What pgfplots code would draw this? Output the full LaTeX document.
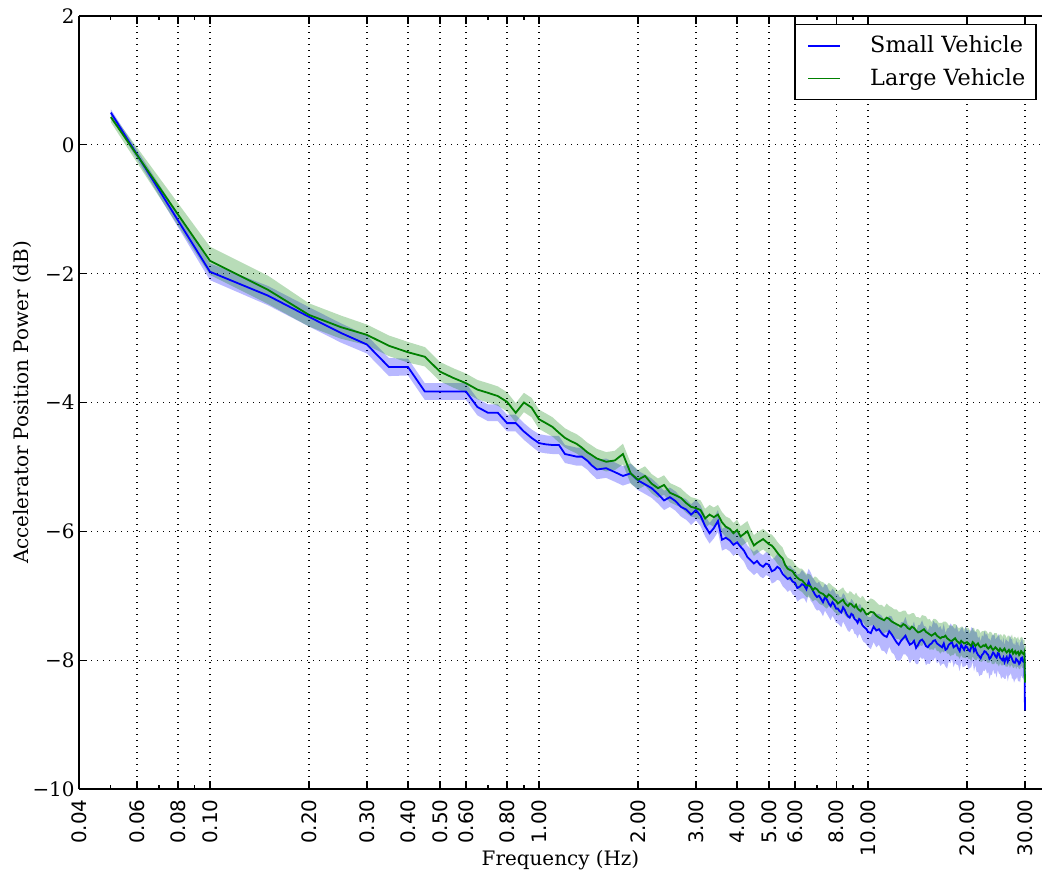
\documentclass[border=0pt]{standalone}
\usepackage{fontspec}
\setmainfont{DejaVu Serif}
\newfontfamily\sansdj{DejaVu Sans}
\usepackage{pgfplots}
\usepackage{pgfplotstable}
\pgfplotsset{compat=1.18}
\usepgfplotslibrary{fillbetween}

\definecolor{mplblue}{RGB}{0,0,255}
\definecolor{mplgreen}{RGB}{0,128,0}

\pgfplotstableread{
f b bw g gw
0.05 0.50 0.05 0.43 0.08
0.10 -1.97 0.13 -1.80 0.22
0.15 -2.34 0.15 -2.25 0.22
0.20 -2.67 0.15 -2.64 0.18
0.25 -2.92 0.15 -2.83 0.18
0.30 -3.10 0.14 -2.95 0.16
0.35 -3.45 0.14 -3.12 0.16
0.40 -3.45 0.13 -3.22 0.16
0.45 -3.83 0.13 -3.29 0.15
0.50 -3.83 0.13 -3.52 0.15
0.55 -3.83 0.13 -3.62 0.15
0.60 -3.83 0.13 -3.70 0.15
0.65 -4.07 0.13 -3.80 0.15
0.70 -4.16 0.13 -3.85 0.15
0.75 -4.16 0.13 -3.90 0.15
0.80 -4.32 0.13 -3.99 0.15
0.85 -4.32 0.13 -4.16 0.15
0.90 -4.45 0.13 -4.00 0.15
0.95 -4.55 0.13 -4.08 0.15
1.00 -4.63 0.14 -4.26 0.15
1.05 -4.65 0.14 -4.32 0.15
1.10 -4.66 0.14 -4.38 0.15
1.15 -4.66 0.14 -4.47 0.15
1.20 -4.80 0.14 -4.55 0.15
1.25 -4.82 0.14 -4.60 0.15
1.30 -4.84 0.14 -4.64 0.15
1.35 -4.84 0.14 -4.70 0.15
1.40 -4.90 0.14 -4.77 0.15
1.45 -4.98 0.14 -4.82 0.15
1.50 -5.04 0.15 -4.87 0.15
1.60 -5.02 0.15 -4.92 0.15
1.70 -5.08 0.15 -4.90 0.15
1.80 -5.14 0.15 -4.80 0.16
1.90 -5.10 0.15 -5.10 0.16
2.00 -5.21 0.15 -5.20 0.15
2.10 -5.27 0.15 -5.14 0.15
2.20 -5.33 0.15 -5.26 0.15
2.30 -5.42 0.15 -5.33 0.15
2.40 -5.52 0.15 -5.28 0.15
2.50 -5.47 0.15 -5.40 0.15
2.60 -5.53 0.15 -5.44 0.15
2.70 -5.62 0.15 -5.48 0.15
2.80 -5.66 0.16 -5.56 0.15
2.90 -5.74 0.16 -5.62 0.15
3.00 -5.67 0.16 -5.64 0.15
3.10 -5.76 0.16 -5.67 0.15
3.20 -5.92 0.16 -5.80 0.15
3.30 -6.03 0.16 -5.74 0.15
3.40 -5.95 0.16 -5.78 0.15
3.50 -5.84 0.17 -5.74 0.15
3.60 -6.13 0.17 -5.86 0.16
3.70 -6.10 0.17 -5.93 0.16
3.80 -6.14 0.17 -5.96 0.16
3.90 -6.21 0.17 -6.03 0.16
4.00 -6.17 0.17 -5.98 0.16
4.10 -6.24 0.17 -6.08 0.16
4.20 -6.30 0.17 -6.04 0.16
4.30 -6.40 0.18 -6.00 0.16
4.40 -6.45 0.18 -6.12 0.16
4.50 -6.50 0.18 -6.22 0.16
4.60 -6.46 0.18 -6.18 0.16
4.70 -6.52 0.18 -6.15 0.16
4.80 -6.55 0.18 -6.12 0.16
4.90 -6.50 0.18 -6.16 0.16
5.00 -6.52 0.18 -6.20 0.16
5.10 -6.62 0.19 -6.22 0.17
5.20 -6.60 0.19 -6.27 0.17
5.30 -6.55 0.20 -6.33 0.17
5.40 -6.58 0.19 -6.38 0.17
5.50 -6.66 0.19 -6.42 0.17
5.60 -6.70 0.19 -6.52 0.17
5.70 -6.74 0.20 -6.58 0.17
5.80 -6.72 0.19 -6.60 0.17
5.90 -6.78 0.20 -6.62 0.17
6.00 -6.80 0.20 -6.68 0.17
6.10 -6.88 0.21 -6.72 0.17
6.20 -6.86 0.20 -6.75 0.17
6.30 -6.82 0.22 -6.76 0.18
6.40 -6.84 0.20 -6.80 0.18
6.50 -6.90 0.21 -6.84 0.18
6.60 -6.78 0.20 -6.84 0.18
6.70 -6.86 0.22 -6.86 0.18
6.80 -6.92 0.20 -6.91 0.18
6.90 -6.98 0.21 -6.88 0.18
7.00 -7.02 0.21 -6.90 0.18
7.10 -7.00 0.22 -6.94 0.18
7.20 -7.05 0.21 -6.96 0.18
7.30 -7.10 0.22 -6.97 0.18
7.40 -7.02 0.21 -7.00 0.18
7.50 -7.06 0.22 -7.02 0.18
7.60 -7.12 0.21 -6.98 0.18
7.70 -7.16 0.22 -7.00 0.18
7.80 -7.10 0.21 -7.03 0.18
7.90 -7.14 0.22 -7.06 0.19
8.00 -7.20 0.22 -7.08 0.19
8.10 -7.20 0.23 -7.12 0.19
8.20 -7.24 0.22 -7.10 0.19
8.30 -7.26 0.23 -7.08 0.19
8.40 -7.18 0.22 -7.06 0.19
8.50 -7.22 0.23 -7.11 0.19
8.60 -7.28 0.22 -7.14 0.19
8.70 -7.32 0.23 -7.16 0.19
8.80 -7.34 0.22 -7.12 0.19
8.90 -7.28 0.23 -7.13 0.19
9.00 -7.30 0.22 -7.16 0.19
9.10 -7.36 0.23 -7.18 0.19
9.20 -7.38 0.22 -7.14 0.19
9.30 -7.42 0.24 -7.20 0.20
9.40 -7.36 0.23 -7.22 0.20
9.50 -7.38 0.24 -7.24 0.20
9.60 -7.45 0.23 -7.20 0.20
9.70 -7.48 0.24 -7.22 0.20
9.80 -7.50 0.23 -7.26 0.20
9.90 -7.52 0.24 -7.29 0.20
10.00 -7.56 0.23 -7.28 0.20
10.2 -7.58 0.25 -7.25 0.21
10.4 -7.48 0.24 -7.26 0.20
10.6 -7.54 0.26 -7.31 0.21
10.8 -7.52 0.24 -7.34 0.20
11.0 -7.58 0.27 -7.36 0.22
11.2 -7.62 0.24 -7.38 0.20
11.4 -7.64 0.27 -7.34 0.22
11.6 -7.55 0.24 -7.36 0.20
11.8 -7.60 0.28 -7.40 0.22
12.0 -7.66 0.25 -7.42 0.21
12.2 -7.72 0.28 -7.44 0.23
12.4 -7.76 0.25 -7.46 0.21
12.6 -7.70 0.29 -7.48 0.23
12.8 -7.66 0.25 -7.44 0.21
13.0 -7.62 0.29 -7.46 0.23
13.2 -7.70 0.25 -7.50 0.21
13.4 -7.76 0.29 -7.52 0.23
13.6 -7.74 0.25 -7.48 0.21
13.8 -7.70 0.30 -7.50 0.23
14.0 -7.81 0.25 -7.54 0.21
14.2 -7.76 0.30 -7.57 0.24
14.4 -7.70 0.25 -7.56 0.21
14.6 -7.68 0.30 -7.54 0.24
14.8 -7.72 0.25 -7.52 0.21
15.0 -7.78 0.30 -7.56 0.24
15.2 -7.80 0.25 -7.58 0.21
15.4 -7.76 0.30 -7.60 0.24
15.6 -7.74 0.25 -7.62 0.21
15.8 -7.70 0.31 -7.60 0.24
16.0 -7.69 0.26 -7.58 0.22
16.2 -7.74 0.31 -7.62 0.24
16.4 -7.76 0.26 -7.64 0.22
16.6 -7.78 0.31 -7.66 0.24
16.8 -7.80 0.26 -7.64 0.22
17.0 -7.74 0.31 -7.64 0.24
17.2 -7.84 0.26 -7.62 0.22
17.4 -7.82 0.31 -7.66 0.24
17.6 -7.76 0.26 -7.68 0.22
17.8 -7.74 0.31 -7.70 0.24
18.0 -7.72 0.26 -7.70 0.22
18.2 -7.80 0.31 -7.68 0.24
18.4 -7.78 0.26 -7.66 0.22
18.6 -7.76 0.31 -7.70 0.24
18.8 -7.82 0.26 -7.72 0.22
19.0 -7.86 0.31 -7.74 0.24
19.2 -7.76 0.26 -7.70 0.22
19.4 -7.80 0.31 -7.72 0.24
19.6 -7.84 0.26 -7.74 0.22
19.8 -7.78 0.31 -7.73 0.24
20.0 -7.80 0.26 -7.72 0.22
20.2 -7.84 0.31 -7.74 0.24
20.4 -7.86 0.26 -7.76 0.22
20.6 -7.80 0.31 -7.78 0.24
20.8 -7.76 0.26 -7.72 0.22
21.0 -7.86 0.31 -7.74 0.24
21.2 -7.82 0.26 -7.78 0.22
21.4 -7.88 0.31 -7.76 0.24
21.6 -7.92 0.26 -7.74 0.22
21.8 -7.94 0.31 -7.78 0.24
22.0 -7.97 0.26 -7.80 0.22
22.2 -7.92 0.31 -7.79 0.24
22.4 -7.90 0.26 -7.77 0.22
22.6 -7.86 0.31 -7.78 0.24
22.8 -7.87 0.26 -7.76 0.22
23.0 -7.90 0.31 -7.80 0.24
23.2 -7.92 0.26 -7.82 0.22
23.4 -7.98 0.31 -7.80 0.24
23.6 -7.96 0.26 -7.78 0.22
23.8 -7.92 0.31 -7.82 0.24
24.0 -7.88 0.26 -7.84 0.22
24.2 -7.90 0.31 -7.82 0.24
24.4 -7.94 0.26 -7.80 0.22
24.6 -7.96 0.31 -7.82 0.24
24.8 -7.89 0.26 -7.84 0.22
25.0 -7.90 0.31 -7.86 0.24
25.2 -7.96 0.26 -7.82 0.22
25.4 -7.98 0.31 -7.84 0.24
25.6 -8.00 0.26 -7.86 0.22
25.8 -7.96 0.31 -7.84 0.24
26.0 -8.03 0.26 -7.82 0.22
26.2 -7.98 0.31 -7.86 0.24
26.4 -7.95 0.26 -7.88 0.22
26.6 -8.02 0.31 -7.86 0.24
26.8 -7.98 0.26 -7.84 0.22
27.0 -7.92 0.31 -7.88 0.24
27.2 -7.94 0.26 -7.86 0.22
27.4 -7.98 0.31 -7.84 0.24
27.6 -8.02 0.26 -7.90 0.22
27.8 -8.04 0.31 -7.88 0.24
28.0 -8.04 0.26 -7.86 0.22
28.2 -7.98 0.31 -7.90 0.24
28.4 -8.00 0.26 -7.88 0.22
28.6 -8.02 0.31 -7.87 0.24
28.8 -8.06 0.26 -7.92 0.22
29.0 -8.04 0.31 -7.90 0.24
29.2 -7.97 0.26 -7.86 0.22
29.4 -7.96 0.31 -7.88 0.24
29.6 -8.02 0.26 -7.90 0.22
29.8 -8.03 0.28 -7.91 0.22
29.9 -8.00 0.20 -7.88 0.20
30.0 -8.78 0.10 -8.35 0.10
}\datatable

\begin{document}
\begin{tikzpicture}
\begin{axis}[
  at={(0,0)}, anchor=south west,
  scale only axis,
  width=481.5bp, height=386.5bp,
  xmode=log,
  xmin=0.04, xmax=33.8,
  ymin=-10, ymax=2,
  axis x line*=box,
  axis y line*=left,
  axis line style={line width=0.9bp, black},
  xtick={0.04,0.06,0.08,0.1,0.2,0.3,0.4,0.5,0.6,0.8,1,2,3,4,5,6,8,10,20,30},
  xticklabels={0.04,0.06,0.08,0.10,0.20,0.30,0.40,0.50,0.60,0.80,1.00,2.00,3.00,4.00,5.00,6.00,8.00,10.00,20.00,30.00},
  minor xtick={0.05,0.07,0.09,0.7,0.9,7,9},
  ytick={-10,-8,-6,-4,-2,0,2},
  yticklabels={−10,−8,−6,−4,−2,0,2},
  tick align=inside,
  major tick length=4bp,
  minor tick length=2bp,
  tick style={black, line width=0.6bp},
  grid=major,
  major grid style={black, line width=0.6bp, dash pattern=on 0.7bp off 2.3bp},
  x tick label style={font=\sansdj\fontsize{10}{12}\selectfont, rotate=90, anchor=east, inner sep=0pt},
  xticklabel shift=5bp,
  y tick label style={font=\fontsize{10}{12}\selectfont, inner sep=0pt},
  yticklabel shift=2bp,
  xlabel={Frequency (Hz)},
  ylabel={Accelerator Position Power (dB)},
  label style={font=\fontsize{10}{12}\selectfont},
  xlabel style={at={(axis description cs:0.5,-0.0918)}, anchor=center},
  ylabel style={at={(axis description cs:-0.0585,0.5)}, anchor=center},
  legend style={at={(axis description cs:0.9948,0.9898)}, anchor=north east,
    draw=black, line width=0.8bp, font=\fontsize{11.2}{13}\selectfont,
    inner xsep=3.5bp, inner ysep=3.5bp, row sep=2.5bp,
    cells={anchor=west}},
  legend image code/.code={\draw[#1] (3bp,0bp) -- (19bp,0bp); \path[draw=none] (0bp,0bp) -- (32bp,0bp);},
  legend cell align=left,
]
\addplot[draw=none, name path=bu, forget plot] table[x=f, y expr=\thisrow{b}+\thisrow{bw}] {\datatable};
\addplot[draw=none, name path=bl, forget plot] table[x=f, y expr=\thisrow{b}-\thisrow{bw}] {\datatable};
\addplot[draw=none, name path=gu, forget plot] table[x=f, y expr=\thisrow{g}+\thisrow{gw}] {\datatable};
\addplot[draw=none, name path=gl, forget plot] table[x=f, y expr=\thisrow{g}-\thisrow{gw}] {\datatable};
\addplot[fill=mplblue, fill opacity=0.28, draw=none, forget plot] fill between[of=bu and bl];
\addplot[fill=mplgreen, fill opacity=0.28, draw=none, forget plot] fill between[of=gu and gl];
\addplot[mplblue, line width=0.9bp] table[x=f, y=b] {\datatable};
\addlegendentry{Small Vehicle}
\addplot[mplgreen, line width=0.9bp] table[x=f, y=g] {\datatable};
\addlegendentry{Large Vehicle}
\end{axis}
\pgfresetboundingbox
\useasboundingbox (-39.5bp,-42bp) rectangle (481.5bp,394.5bp);
\end{tikzpicture}
\end{document}
